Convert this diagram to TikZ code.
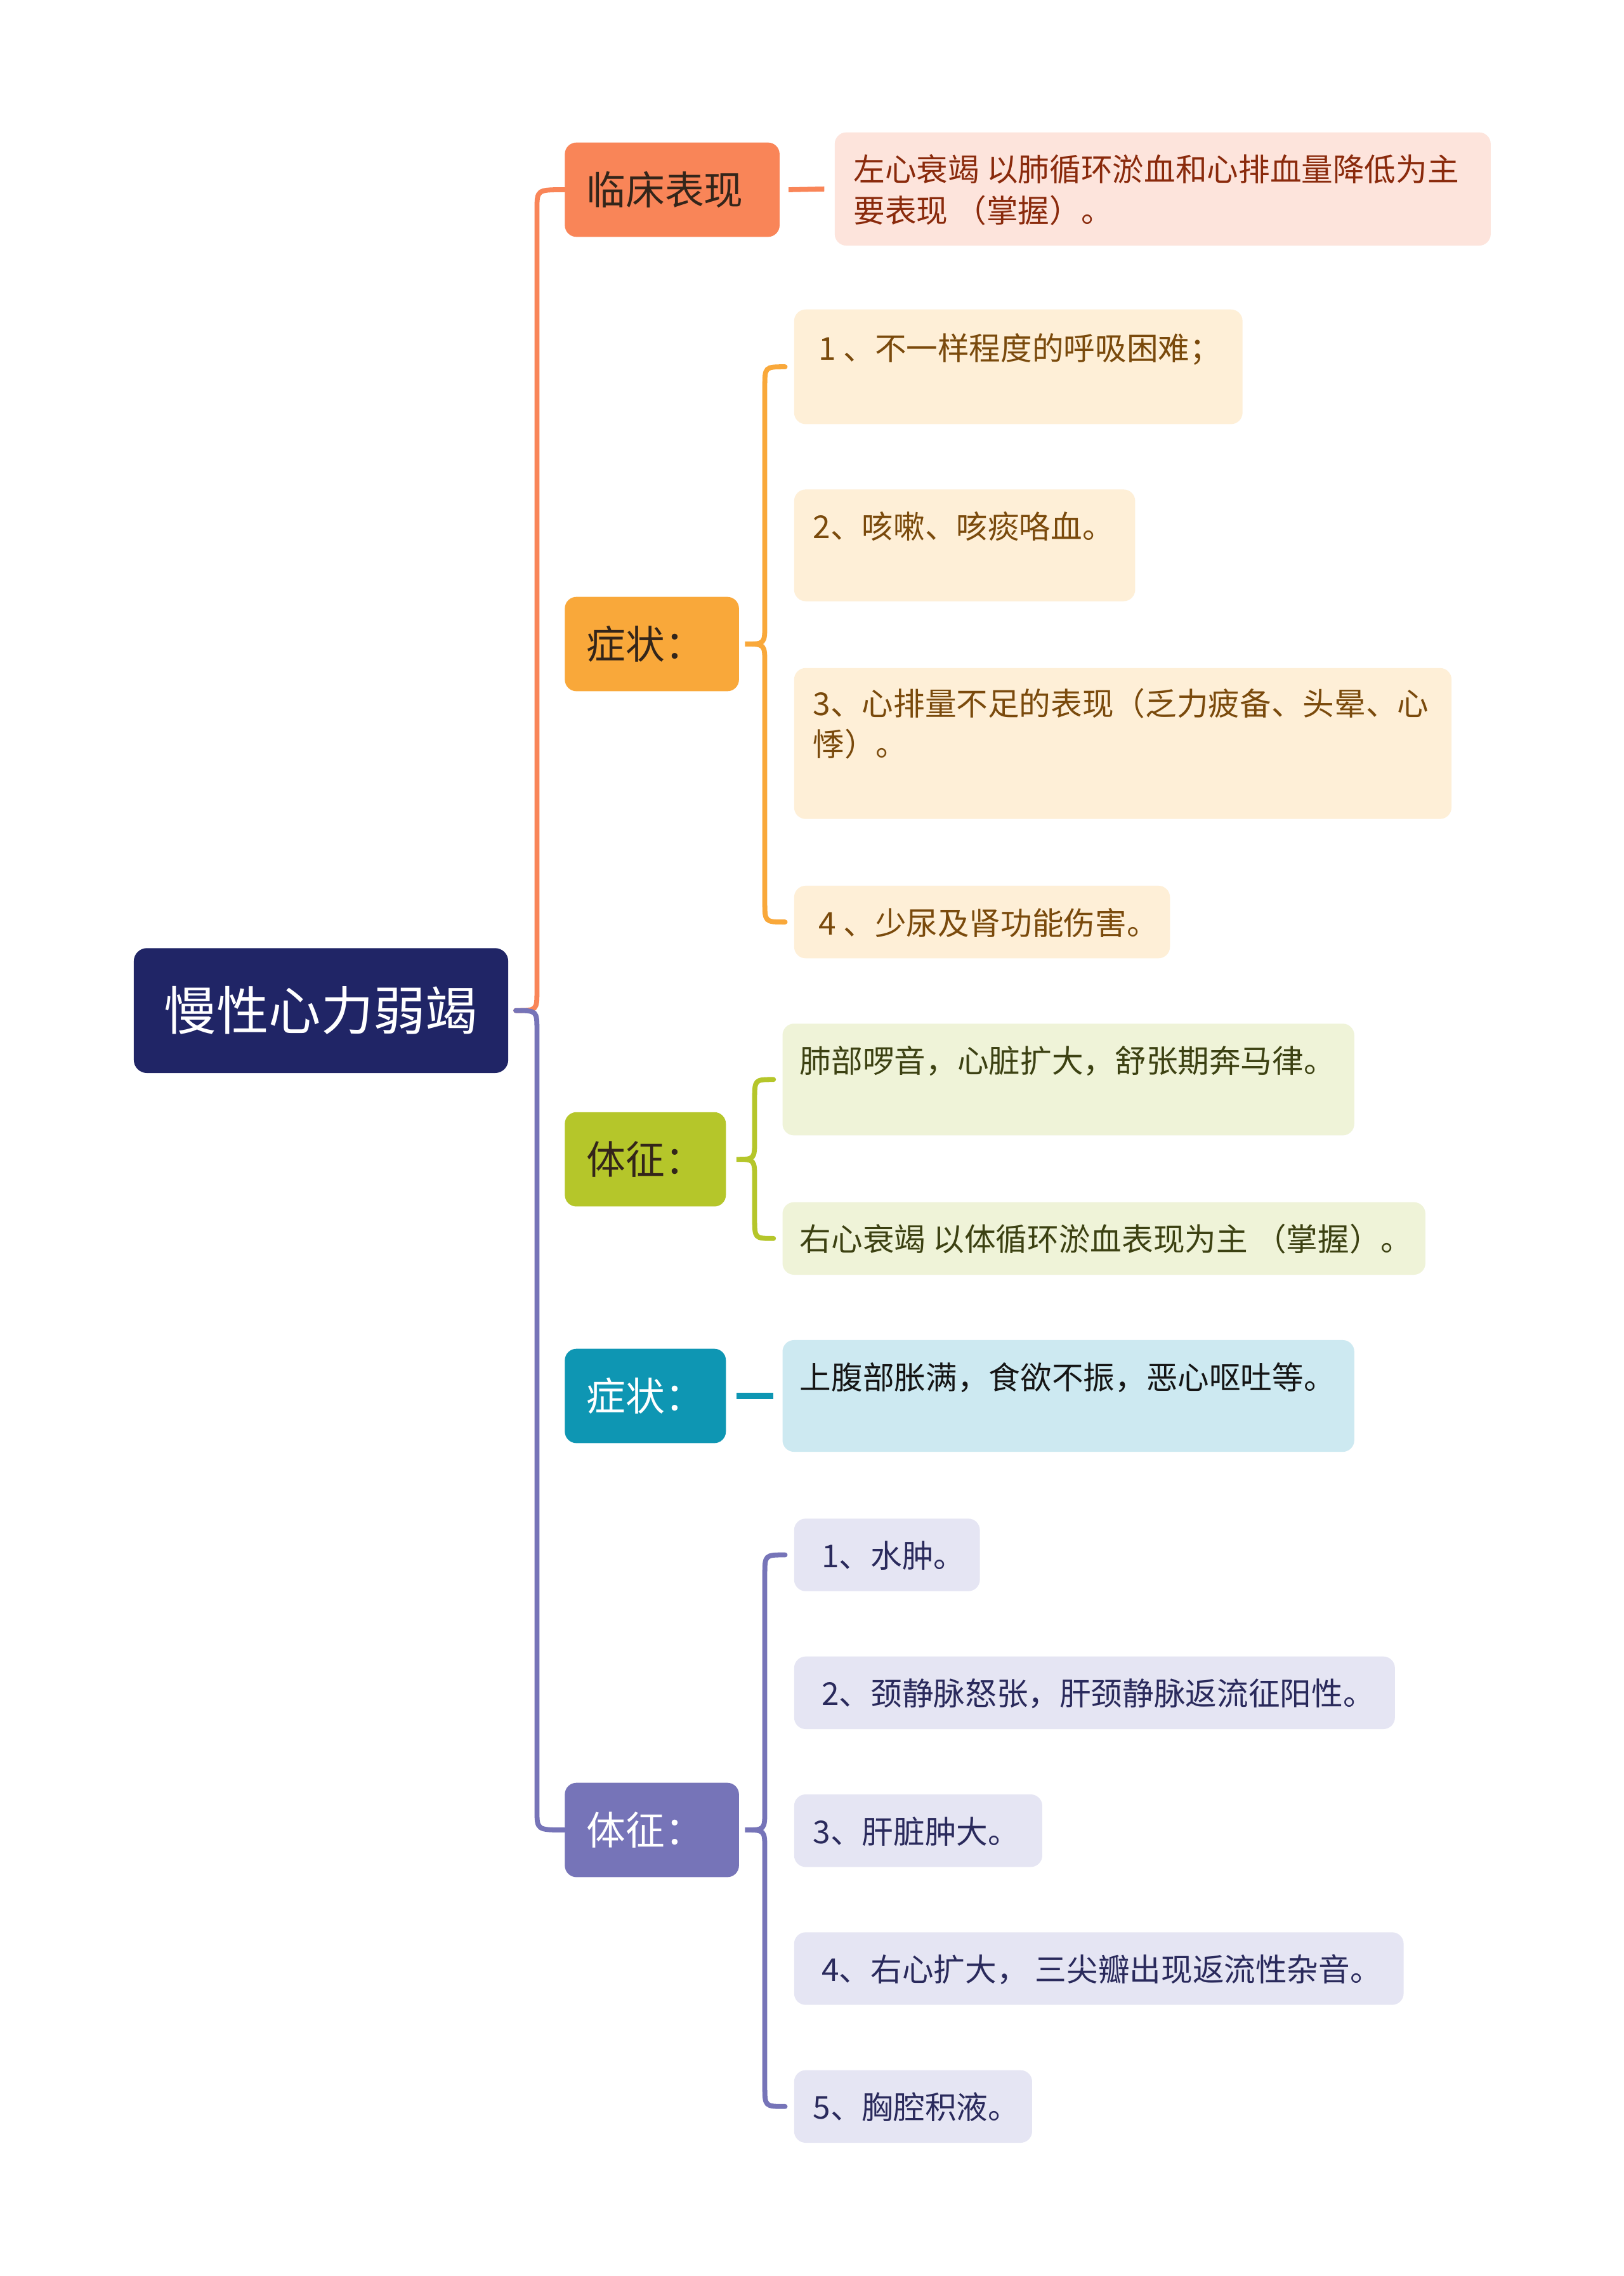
\documentclass[tikz,border=0pt]{standalone}
\usepackage{fontspec}
\newfontfamily\cjk{Noto Sans CJK SC}
\usetikzlibrary{calc}
\definecolor{cNavy}{HTML}{202566}
\definecolor{cOrange}{HTML}{F98558}
\definecolor{cOrangeLeaf}{HTML}{FDE4DC}
\definecolor{cOrangeText}{HTML}{8A2A0C}
\definecolor{cAmber}{HTML}{F9A83A}
\definecolor{cAmberLeaf}{HTML}{FEEFD7}
\definecolor{cAmberText}{HTML}{7A4A0C}
\definecolor{cGreen}{HTML}{B5C62A}
\definecolor{cGreenLeaf}{HTML}{EFF3D8}
\definecolor{cGreenText}{HTML}{3C4112}
\definecolor{cTeal}{HTML}{0E96B3}
\definecolor{cTealLeaf}{HTML}{CDE9F1}
\definecolor{cTealText}{HTML}{151515}
\definecolor{cPurple}{HTML}{7674B8}
\definecolor{cPurpleLeaf}{HTML}{E5E5F3}
\definecolor{cPurpleText}{HTML}{2A2A5C}
\definecolor{cDark}{HTML}{33251A}
\begin{document}
\begin{tikzpicture}[x=1pt,y=-1pt,
  rootbox/.style={rounded corners=9pt, inner sep=0pt, fill=cNavy, text=white,
    font=\cjk\fontsize{36pt}{40pt}\selectfont, minimum width=258pt, minimum height=86pt, anchor=north west},
  topic/.style={rounded corners=8pt, inner ysep=0pt, inner xsep=15pt, align=left,
    font=\cjk\fontsize{27pt}{32pt}\selectfont, minimum height=65pt, anchor=north west},
  leafbox/.style={rounded corners=8pt, inner sep=0pt, anchor=north west},
  leaftext/.style={inner sep=0pt, anchor=base west, align=left,
    font=\cjk\fontsize{21.7pt}{28pt}\selectfont},
  conn/.style={line width=3.4pt, line cap=round}
]
\useasboundingbox[fill=white] (0,0) rectangle (1119,1568);

% root
\node[rootbox] (root) at (92,653) {慢性心力弱竭};

% level-1 topics
\node[topic, fill=cOrange, text=cDark, text width=118pt] (c1) at (389,98) {临床表现};
\node[topic, fill=cAmber, text=cDark, text width=90pt] (c2) at (389,411) {症状：};
\node[topic, fill=cGreen, text=cDark, text width=81pt] (c3) at (389,766) {体征：};
\node[topic, fill=cTeal, text=white, text width=81pt] (c4) at (389,929) {症状：};
\node[topic, fill=cPurple, text=white, text width=90pt] (c5) at (389,1228) {体征：};

% leaves: orange
\node[leafbox, fill=cOrangeLeaf, minimum width=452pt, minimum height=78pt] (o1) at (575,91) {};
\node[leaftext, text=cOrangeText] (o1t) at ($(o1.north west)+(13,62)$) {左心衰竭 以肺循环淤血和心排血量降低为主\\要表现 （掌握）。};

% leaves: amber
\node[leafbox, fill=cAmberLeaf, minimum width=309pt, minimum height=79pt] (a1) at (547,213) {};
\node[leaftext, text=cAmberText] (a1t) at ($(a1.north west)+(17,35)$) {1 、不一样程度的呼吸困难；};
\node[leafbox, fill=cAmberLeaf, minimum width=235pt, minimum height=77pt] (a2) at (547,337) {};
\node[leaftext, text=cAmberText] (a2t) at ($(a2.north west)+(13,34)$) {2、咳嗽、咳痰咯血。};
\node[leafbox, fill=cAmberLeaf, minimum width=453pt, minimum height=104pt] (a3) at (547,460) {};
\node[leaftext, text=cAmberText] (a3t) at ($(a3.north west)+(13,61)$) {3、心排量不足的表现（乏力疲备、头晕、心\\悸）。};
\node[leafbox, fill=cAmberLeaf, minimum width=259pt, minimum height=50pt] (a4) at (547,610) {};
\node[leaftext, text=cAmberText] (a4t) at ($(a4.north west)+(17,34)$) {4 、少尿及肾功能伤害。};

% leaves: green
\node[leafbox, fill=cGreenLeaf, minimum width=394pt, minimum height=77pt] (g1) at (539,705) {};
\node[leaftext, text=cGreenText] (g1t) at ($(g1.north west)+(12,34)$) {肺部啰音，心脏扩大，舒张期奔马律。};
\node[leafbox, fill=cGreenLeaf, minimum width=443pt, minimum height=50pt] (g2) at (539,828) {};
\node[leaftext, text=cGreenText] (g2t) at ($(g2.north west)+(12,34)$) {右心衰竭 以体循环淤血表现为主 （掌握）。};

% leaf: teal
\node[leafbox, fill=cTealLeaf, minimum width=394pt, minimum height=77pt] (t1) at (539,923) {};
\node[leaftext, text=cTealText] (t1t) at ($(t1.north west)+(12,34)$) {上腹部胀满，食欲不振，恶心呕吐等。};

% leaves: purple
\node[leafbox, fill=cPurpleLeaf, minimum width=128pt, minimum height=50pt] (p1) at (547,1046) {};
\node[leaftext, text=cPurpleText] (p1t) at ($(p1.north west)+(19,34)$) {1、水肿。};
\node[leafbox, fill=cPurpleLeaf, minimum width=414pt, minimum height=50pt] (p2) at (547,1141) {};
\node[leaftext, text=cPurpleText] (p2t) at ($(p2.north west)+(19,34)$) {2、颈静脉怒张，肝颈静脉返流征阳性。};
\node[leafbox, fill=cPurpleLeaf, minimum width=171pt, minimum height=50pt] (p3) at (547,1236) {};
\node[leaftext, text=cPurpleText] (p3t) at ($(p3.north west)+(13,34)$) {3、肝脏肿大。};
\node[leafbox, fill=cPurpleLeaf, minimum width=420pt, minimum height=50pt] (p4) at (547,1331) {};
\node[leaftext, text=cPurpleText] (p4t) at ($(p4.north west)+(19,34)$) {4、右心扩大， 三尖瓣出现返流性杂音。};
\node[leafbox, fill=cPurpleLeaf, minimum width=164pt, minimum height=50pt] (p5) at (547,1426) {};
\node[leaftext, text=cPurpleText] (p5t) at ($(p5.north west)+(13,34)$) {5、胸腔积液。};

% trunk connectors
\coordinate (tx) at (370,0);
\coordinate (tip) at ($(root.east)+(5,0)$);
\draw[conn, cOrange] (tip) .. controls (tx |- tip) .. ($(tx |- tip)+(0,-14)$)
  -- ($(tx |- c1.west)+(0,14)$) .. controls (tx |- c1.west) .. (c1.west);
\draw[conn, cPurple] (tip) .. controls (tx |- tip) .. ($(tx |- tip)+(0,14)$)
  -- ($(tx |- c5.west)+(0,-14)$) .. controls (tx |- c5.west) .. (c5.west);

% orange leaf connector
\coordinate (o1s) at ($(c1.east)+(6,0)$);
\coordinate (o1e) at ($(o1.west)+(-7,0)$);
\draw[conn, cOrange, line cap=butt] (o1s) -- (o1e);

% amber brace
\coordinate (bx2) at (527,0);
\coordinate (tip2) at ($(c2.east)+(4,0)$);
\draw[conn, cAmber] ($(a1.west)+(-6,0)$) .. controls (bx2 |- a1.west) .. ($(bx2 |- a1.west)+(0,14)$)
  -- ($(bx2 |- tip2)+(0,-14)$) .. controls (bx2 |- tip2) .. (tip2)
  .. controls (bx2 |- tip2) .. ($(bx2 |- tip2)+(0,14)$)
  -- ($(bx2 |- a4.west)+(0,-14)$) .. controls (bx2 |- a4.west) .. ($(a4.west)+(-6,0)$);

% green brace
\coordinate (bx3) at (520,0);
\coordinate (tip3) at ($(c3.east)+(7,0)$);
\draw[conn, cGreen] ($(g1.west)+(-6,0)$) .. controls (bx3 |- g1.west) .. ($(bx3 |- g1.west)+(0,14)$)
  -- ($(bx3 |- tip3)+(0,-14)$) .. controls (bx3 |- tip3) .. (tip3)
  .. controls (bx3 |- tip3) .. ($(bx3 |- tip3)+(0,14)$)
  -- ($(bx3 |- g2.west)+(0,-14)$) .. controls (bx3 |- g2.west) .. ($(g2.west)+(-6,0)$);

% teal connector
\draw[line width=4pt, cTeal] ($(c4.east)+(7,0)$) -- ($(t1.west)+(-6,0)$);

% purple brace
\coordinate (bx5) at (527,0);
\coordinate (tip5) at ($(c5.east)+(4,0)$);
\draw[conn, cPurple] ($(p1.west)+(-6,0)$) .. controls (bx5 |- p1.west) .. ($(bx5 |- p1.west)+(0,14)$)
  -- ($(bx5 |- tip5)+(0,-14)$) .. controls (bx5 |- tip5) .. (tip5)
  .. controls (bx5 |- tip5) .. ($(bx5 |- tip5)+(0,14)$)
  -- ($(bx5 |- p5.west)+(0,-14)$) .. controls (bx5 |- p5.west) .. ($(p5.west)+(-6,0)$);
\end{tikzpicture}
\end{document}
